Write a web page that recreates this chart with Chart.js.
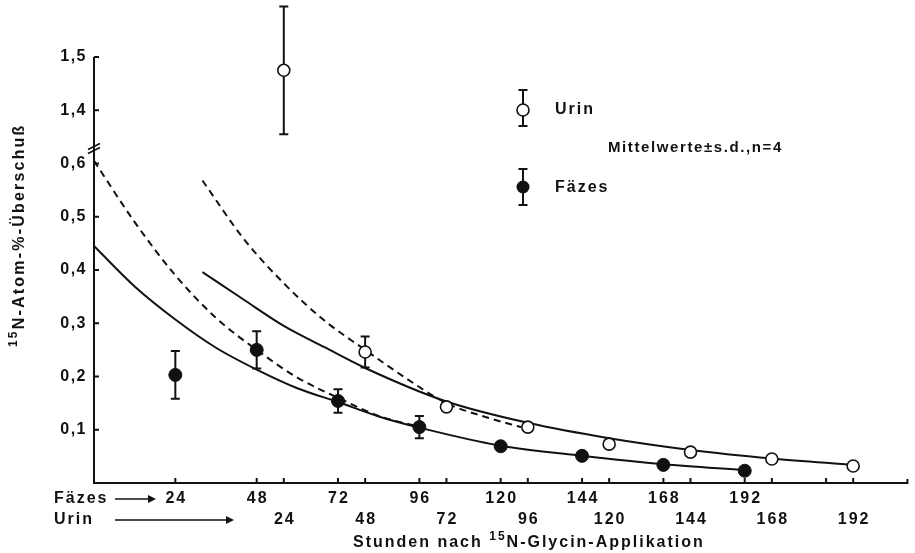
<!DOCTYPE html>
<html>
<head>
<meta charset="utf-8">
<script src="https://cdn.jsdelivr.net/npm/chart.js@4"></script>
<style>
  body { margin: 0; background: #fff; }
  canvas { display: block; }
</style>
</head>
<body>
<canvas id="chart" width="915" height="553"></canvas>
<script>
const faezesHours = [24, 48, 72, 96, 120, 144, 168, 192];
const faezesMean = [0.203, 0.25, 0.154, 0.105, 0.069, 0.051, 0.034, 0.023];
const faezesSd = [0.045, 0.035, 0.022, 0.021, 0, 0, 0, 0];

const urinHours = [24, 48, 72, 96, 120, 144, 168, 192];
const urinMean = [1.475, 0.246, 0.143, 0.105, 0.073, 0.058, 0.045, 0.032];
const urinSd = [0.12, 0.029, 0, 0, 0, 0, 0, 0];

// fitted curves (solid) and dashed curves
const faezesFitHours = [0, 12, 24, 36, 48, 60, 72, 84, 96, 120, 144, 168, 192];
const faezesFit = [0.445, 0.369, 0.307, 0.254, 0.213, 0.178, 0.152, 0.125, 0.104, 0.07, 0.051, 0.035, 0.024];
const faezesDashHours = [0, 12, 24, 36, 48, 60, 72, 84, 95];
const faezesDash = [0.605, 0.49, 0.39, 0.31, 0.25, 0.198, 0.16, 0.126, 0.107];

const urinFitHours = [0, 12, 24, 36, 48, 72, 96, 120, 144, 168, 192];
const urinFit = [0.396, 0.345, 0.295, 0.255, 0.216, 0.153, 0.113, 0.084, 0.062, 0.046, 0.034];
const urinDashHours = [0, 12, 24, 36, 48, 60, 72, 84, 94];
const urinDash = [0.568, 0.46, 0.375, 0.305, 0.25, 0.197, 0.15, 0.123, 0.105];

// axis ticks
const faezesTicks = [24, 48, 72, 96, 120, 144, 168, 192];
const extraTicks = [216];
const urinTicks = [24, 48, 72, 96, 120, 144, 168, 192];
const yTicks = [0.1, 0.2, 0.3, 0.4, 0.5, 0.6, 1.4, 1.5];
const yTickLabels = ['0,1', '0,2', '0,3', '0,4', '0,5', '0,6', '1,4', '1,5'];

const urinShift = 32;   // urine time axis is offset against the faeces axis
const breakShift = 0.7; // y values above the axis break are drawn 0.7 lower

const toAxis = v => v > 1 ? v - breakShift : v;
const pairs = (xs, ys, shift) => xs.map((h, i) => ({ x: h + shift, y: toAxis(ys[i]) }));

const ink = '#111';
const font = size => `bold ${size}px "Liberation Sans", Arial, sans-serif`;

function text(ctx, str, x, y, size, align, spacing) {
  ctx.font = font(size);
  ctx.letterSpacing = (spacing || 0) + 'px';
  ctx.textAlign = align || 'left';
  ctx.textBaseline = 'middle';
  ctx.fillText(str, x, y);
}

// text with a superscript "15" in front of the N
function supText(ctx, before, sup, after, x, y, size, spacing) {
  ctx.textAlign = 'left';
  ctx.textBaseline = 'alphabetic';
  ctx.letterSpacing = spacing + 'px';
  ctx.font = font(size);
  ctx.fillText(before, x, y);
  x += ctx.measureText(before).width;
  ctx.font = font(size - 4);
  ctx.fillText(sup, x, y - 7);
  x += ctx.measureText(sup).width;
  ctx.font = font(size);
  ctx.fillText(after, x, y);
}

function errorBar(ctx, px, top, bottom) {
  ctx.beginPath();
  ctx.moveTo(px, top); ctx.lineTo(px, bottom);
  ctx.moveTo(px - 4.5, top); ctx.lineTo(px + 4.5, top);
  ctx.moveTo(px - 4.5, bottom); ctx.lineTo(px + 4.5, bottom);
  ctx.stroke();
}

function arrow(ctx, x1, x2, y) {
  ctx.beginPath();
  ctx.moveTo(x1, y); ctx.lineTo(x2 - 6, y);
  ctx.stroke();
  ctx.beginPath();
  ctx.moveTo(x2, y); ctx.lineTo(x2 - 8, y - 4); ctx.lineTo(x2 - 8, y + 4);
  ctx.closePath();
  ctx.fill();
}

const errorBarPlugin = {
  id: 'errorBars',
  beforeDatasetsDraw(chart) {
    const ctx = chart.ctx, xs = chart.scales.x, ys = chart.scales.y;
    ctx.save();
    ctx.strokeStyle = ink;
    ctx.lineWidth = 2;
    const draw = (hours, means, sds, shift) => {
      hours.forEach((h, i) => {
        if (!sds[i]) return;
        const px = xs.getPixelForValue(h + shift);
        errorBar(ctx, px, ys.getPixelForValue(toAxis(means[i] + sds[i])),
          ys.getPixelForValue(toAxis(means[i] - sds[i])));
      });
    };
    draw(faezesHours, faezesMean, faezesSd, 0);
    draw(urinHours, urinMean, urinSd, urinShift);
    ctx.restore();
  }
};

const axesPlugin = {
  id: 'paperAxes',
  afterDraw(chart) {
    const ctx = chart.ctx, xs = chart.scales.x, ys = chart.scales.y;
    const a = chart.chartArea;
    ctx.save();
    ctx.strokeStyle = ink;
    ctx.fillStyle = ink;
    ctx.lineWidth = 2;

    // axis lines
    ctx.beginPath();
    ctx.moveTo(a.left, a.top);
    ctx.lineTo(a.left, a.bottom);
    ctx.lineTo(a.right, a.bottom);
    ctx.lineTo(a.right, a.bottom - 4);
    ctx.stroke();

    // axis break marks
    const yb = ys.getPixelForValue(0.63);
    ctx.lineWidth = 1.6;
    ctx.beginPath();
    ctx.moveTo(a.left - 6, yb + 2); ctx.lineTo(a.left + 6, yb - 4);
    ctx.moveTo(a.left - 6, yb + 6); ctx.lineTo(a.left + 6, yb);
    ctx.stroke();
    ctx.lineWidth = 2;

    // y ticks and labels
    yTicks.forEach((v, i) => {
      const py = ys.getPixelForValue(toAxis(v));
      ctx.beginPath();
      ctx.moveTo(a.left, py); ctx.lineTo(a.left + 5, py);
      ctx.stroke();
      text(ctx, yTickLabels[i], a.left - 7, py, 16, 'right', 1.5);
    });

    // x ticks
    const tickAt = h => {
      const px = xs.getPixelForValue(h);
      ctx.beginPath();
      ctx.moveTo(px, a.bottom); ctx.lineTo(px, a.bottom - 5);
      ctx.stroke();
    };
    faezesTicks.concat(extraTicks).forEach(tickAt);
    urinTicks.forEach(h => tickAt(h + urinShift));

    // two rows of tick labels
    const row1 = a.bottom + 16, row2 = a.bottom + 37;
    faezesTicks.forEach(h => text(ctx, String(h), xs.getPixelForValue(h) + 1, row1, 16, 'center', 2));
    urinTicks.forEach(h => text(ctx, String(h), xs.getPixelForValue(h + urinShift) + 1, row2, 16, 'center', 2));
    text(ctx, 'Fäzes', 54, row1, 16, 'left', 2);
    text(ctx, 'Urin', 54, row2, 16, 'left', 2);
    ctx.lineWidth = 1.5;
    arrow(ctx, 115, 156, row1);
    arrow(ctx, 115, 234, row2);

    // axis titles
    supText(ctx, 'Stunden nach ', '15', 'N-Glycin-Applikation', 353, 547, 16, 2);
    ctx.save();
    ctx.translate(24, 347);
    ctx.rotate(-Math.PI / 2);
    supText(ctx, '', '15', 'N-Atom-%-Überschuß', 0, 0, 16, 2.2);
    ctx.restore();

    // legend
    ctx.lineWidth = 2;
    errorBar(ctx, 523, 90, 126);
    ctx.beginPath(); ctx.arc(523, 110, 6, 0, Math.PI * 2);
    ctx.fillStyle = '#fff'; ctx.fill(); ctx.lineWidth = 1.6; ctx.stroke();
    ctx.fillStyle = ink;
    ctx.lineWidth = 2;
    errorBar(ctx, 523, 169, 205);
    ctx.beginPath(); ctx.arc(523, 187, 6.5, 0, Math.PI * 2); ctx.fill();
    text(ctx, 'Urin', 555, 110, 16, 'left', 2);
    text(ctx, 'Fäzes', 555, 188, 16, 'left', 2);
    text(ctx, 'Mittelwerte±s.d.,n=4', 608, 148, 15, 'left', 1.6);
    ctx.restore();
  }
};

const lineStyle = { borderColor: ink, borderWidth: 2, pointRadius: 0, fill: false,
  cubicInterpolationMode: 'monotone', clip: false, order: 2 };

new Chart(document.getElementById('chart').getContext('2d'), {
  type: 'scatter',
  data: {
    datasets: [
      { label: 'Fäzes', data: pairs(faezesHours, faezesMean, 0), pointRadius: 6.5,
        pointBackgroundColor: ink, pointBorderColor: ink, pointBorderWidth: 1, showLine: false, clip: false, order: 0 },
      { label: 'Urin', data: pairs(urinHours, urinMean, urinShift), pointRadius: 6,
        pointBackgroundColor: '#fff', pointBorderColor: ink, pointBorderWidth: 1.6, showLine: false, clip: false, order: 0 },
      { label: 'Fäzes fit', data: pairs(faezesFitHours, faezesFit, 0), showLine: true, ...lineStyle },
      { label: 'Fäzes dashed', data: pairs(faezesDashHours, faezesDash, 0), showLine: true, borderDash: [7, 5], ...lineStyle },
      { label: 'Urin fit', data: pairs(urinFitHours, urinFit, urinShift), showLine: true, ...lineStyle },
      { label: 'Urin dashed', data: pairs(urinDashHours, urinDash, urinShift), showLine: true, borderDash: [7, 5], ...lineStyle }
    ]
  },
  options: {
    responsive: false,
    animation: false,
    layout: { padding: { left: 94, right: 7, top: 57, bottom: 70 } },
    plugins: { legend: { display: false }, tooltip: { enabled: false } },
    scales: {
      x: { type: 'linear', min: 0, max: 240, display: false },
      y: { type: 'linear', min: 0, max: 0.8, display: false }
    }
  },
  plugins: [errorBarPlugin, axesPlugin]
});
</script>
</body>
</html>
